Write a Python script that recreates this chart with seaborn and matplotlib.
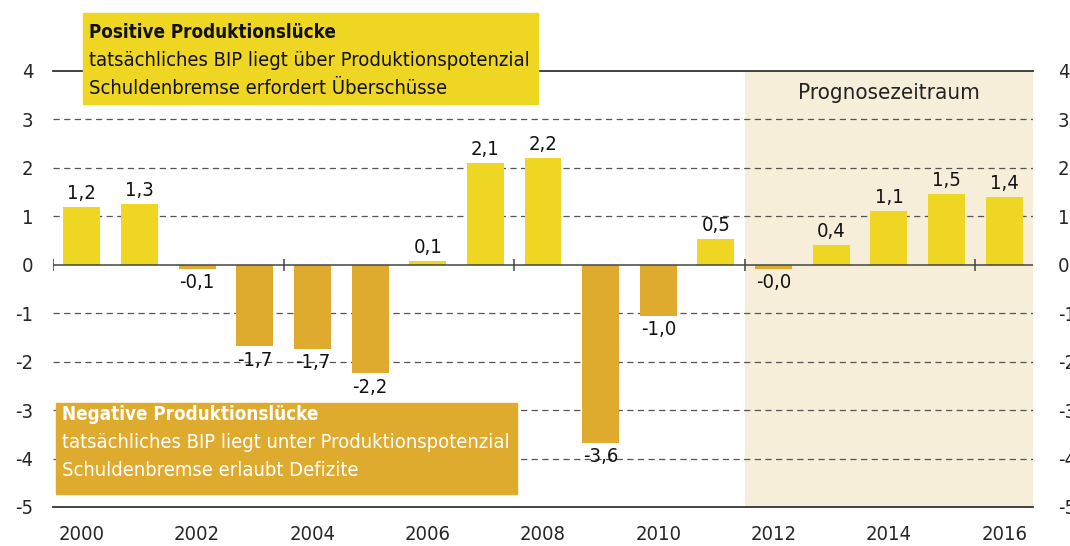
import matplotlib
matplotlib.use("Agg")
import numpy as np
import pandas as pd
import matplotlib.pyplot as plt
from matplotlib.patches import Rectangle
import seaborn as sns

# Output gap (Produktionslücke), 2000-2016
years = list(range(2000, 2017))
gap = [1.2, 1.25, -0.08, -1.67, -1.73, -2.23, 0.08, 2.1, 2.2, -3.67, -1.05,
       0.54, -0.08, 0.41, 1.11, 1.46, 1.4]
value_labels = ["1,2", "1,3", "-0,1", "-1,7", "-1,7", "-2,2", "0,1", "2,1", "2,2",
                "-3,6", "-1,0", "0,5", "-0,0", "0,4", "1,1", "1,5", "1,4"]
y_ticks = [4, 3, 2, 1, 0, -1, -2, -3, -4, -5]
year_labels = [str(y) if y % 2 == 0 else "" for y in years]
forecast_start = 2012

POS = "#EFD622"
NEG = "#DEAB2F"
SHADE = "#F7EEDA"
LINE = "#333333"
FS = 14.5

sns.set_theme(style="white")
plt.rcParams["font.family"] = ["DejaVu Sans"]
plt.rcParams["font.stretch"] = "condensed"

W, H = 1070, 546
fig = plt.figure(figsize=(W / 100, H / 100), dpi=100)
ax = fig.add_axes([53 / W, 1 - 507 / H, 980 / W, 436 / H])

df = pd.DataFrame({"year": [str(y) for y in years], "gap": gap})
df["sign"] = np.where(df["gap"] >= 0, "pos", "neg")

n = len(years)
start = years.index(forecast_start)
ax.axvspan(start - 0.5, n - 0.5, color=SHADE, zorder=0, lw=0)

for y in y_ticks:
    if y not in (0, 4, -5):
        ax.axhline(y, color="#555555", lw=0.9, ls=(0, (5, 3.5)), zorder=1)

sns.barplot(data=df, x="year", y="gap", hue="sign", palette={"pos": POS, "neg": NEG},
            dodge=False, width=0.64, legend=False, ax=ax, zorder=2, saturation=1,
            linewidth=0)

ax.axhline(0, color="#444444", lw=1.1, zorder=3)
ax.vlines(np.arange(-0.5, n - 0.5, 4), -0.12, 0.12, color="#444444", lw=1.1, zorder=3)

for i, (v, lab) in enumerate(zip(gap, value_labels)):
    if v >= 0:
        ax.text(i, v + 0.08, lab, ha="center", va="bottom", fontsize=FS, color="#111111")
    else:
        ax.text(i, v - 0.1, lab, ha="center", va="top", fontsize=FS, color="#111111")

ax.set_xlim(-0.5, n - 0.5)
ax.set_ylim(-5, 4)
ax.set_xlabel("")
ax.set_ylabel("")

for side in ["left", "right"]:
    ax.spines[side].set_visible(False)
for side in ["top", "bottom"]:
    ax.spines[side].set_color(LINE)
    ax.spines[side].set_linewidth(1.3)

ax.set_xticks(range(n))
ax.set_xticklabels(year_labels, fontsize=FS)
ax.set_xticks(np.arange(-0.5, n, 1), minor=True)
ax.tick_params(axis="x", which="major", length=0, pad=13)
ax.tick_params(axis="x", which="minor", length=9, width=1.3, color=LINE, direction="out")

ax.set_yticks(y_ticks)
ax.set_yticklabels([str(t) for t in y_ticks], fontsize=FS)
ax.tick_params(axis="y", length=0, pad=14)

ax2 = ax.twinx()
ax2.set_ylim(-5, 4)
ax2.set_yticks(y_ticks)
ax2.set_yticklabels([str(t) for t in y_ticks], fontsize=FS)
ax2.tick_params(axis="y", length=0, pad=18)
for s in ax2.spines.values():
    s.set_visible(False)
ax2.grid(False)

ax.text((start - 0.5 + n - 0.5) / 2, 3.55, "Prognosezeitraum", ha="center", va="center",
        fontsize=16, color="#222222")

# annotation boxes
fig.patches.append(Rectangle((83 / W, 1 - 104 / H), 455 / W, 91 / H,
                             transform=fig.transFigure, color=POS, zorder=5))
fig.text(89 / W, 1 - 32 / H, "Positive Produktionslücke", fontsize=13.5,
         fontweight="bold", va="center", color="#111111", zorder=6)
fig.text(89 / W, 1 - 60 / H, "tatsächliches BIP liegt über Produktionspotenzial",
         fontsize=FS, va="center", color="#111111", zorder=6)
fig.text(89 / W, 1 - 88 / H, "Schuldenbremse erfordert Überschüsse",
         fontsize=FS, va="center", color="#111111", zorder=6)

fig.patches.append(Rectangle((56 / W, 1 - 494 / H), 461 / W, 91 / H,
                             transform=fig.transFigure, color=NEG, zorder=5))
fig.text(62 / W, 1 - 415 / H, "Negative Produktionslücke", fontsize=13.5,
         fontweight="bold", va="center", color="white", zorder=6)
fig.text(62 / W, 1 - 443 / H, "tatsächliches BIP liegt unter Produktionspotenzial",
         fontsize=FS, va="center", color="white", zorder=6)
fig.text(62 / W, 1 - 471 / H, "Schuldenbremse erlaubt Defizite",
         fontsize=FS, va="center", color="white", zorder=6)

fig.savefig("out.png", dpi=100)
